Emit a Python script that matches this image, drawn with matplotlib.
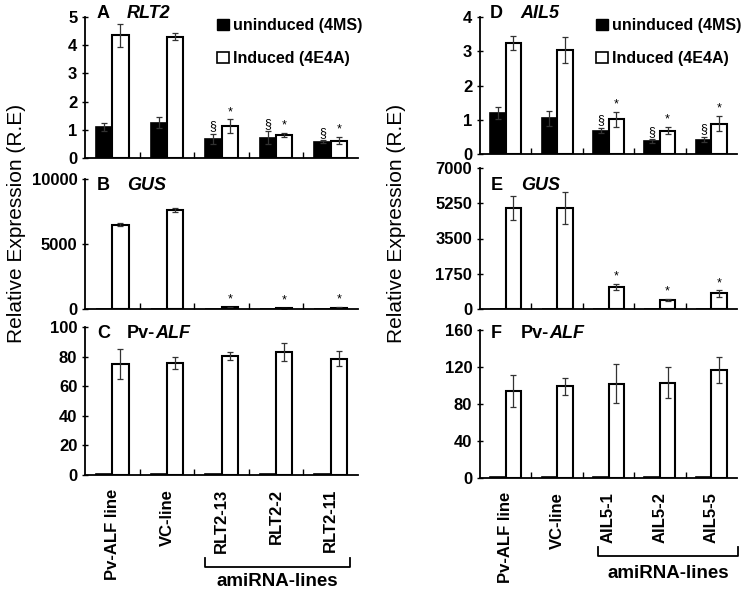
import matplotlib
matplotlib.use("Agg")
import matplotlib.pyplot as plt
import matplotlib.transforms as mtransforms
from matplotlib.patches import Patch
import numpy as np

plt.rcParams['font.family'] = ['Liberation Sans', 'DejaVu Sans']
plt.rcParams['font.weight'] = 'bold'

W, H = 747, 590

left_lines = ["Pv-ALF line", "VC-line", "RLT2-13", "RLT2-2", "RLT2-11"]
right_lines = ["Pv-ALF line", "VC-line", "AIL5-1", "AIL5-2", "AIL5-5"]

# RLT2 (A)
rlt2_un = [1.1, 1.25, 0.68, 0.72, 0.58]
rlt2_un_err = [0.15, 0.2, 0.18, 0.22, 0.05]
rlt2_in = [4.35, 4.3, 1.12, 0.82, 0.62]
rlt2_in_err = [0.4, 0.13, 0.25, 0.08, 0.12]
# GUS (B)
gusB_un = [5, 5, 5, 5, 5]
gusB_in = [6500, 7600, 150, 50, 100]
gusB_in_err = [150, 150, 40, 20, 30]
# Pv-ALF (C)
alfC_un = [0.4, 0.4, 0.4, 0.4, 0.4]
alfC_in = [75, 75.5, 80.5, 83, 78.5]
alfC_in_err = [10, 4, 2.5, 6, 5]
# AIL5 (D)
ail5_un = [1.2, 1.05, 0.68, 0.38, 0.42]
ail5_un_err = [0.17, 0.22, 0.08, 0.05, 0.08]
ail5_in = [3.25, 3.05, 1.02, 0.68, 0.88]
ail5_in_err = [0.2, 0.38, 0.22, 0.1, 0.22]
# GUS (E)
gusE_un = [10, 10, 10, 10, 10]
gusE_in = [5000, 5000, 1080, 440, 770]
gusE_in_err = [600, 800, 150, 60, 150]
# Pv-ALF (F)
alfF_un = [0.6, 0.6, 0.6, 0.6, 0.6]
alfF_in = [94, 99, 102, 103, 117]
alfF_in_err = [17, 9, 21, 17, 14]

fig = plt.figure(figsize=(W / 100, H / 100), dpi=100)


def px_axes(x0, x1, ytop, ybot):
    return fig.add_axes([x0 / W, 1 - ybot / H, (x1 - x0) / W, (ybot - ytop) / H])


def fy(y):
    return 1 - y / H


def draw_panel(ax, un, in_, un_err, in_err, ymax, yticks, marks_in=False, marks_un=False):
    x = np.arange(5)
    bw = 0.3
    ax.bar(x - bw / 2, un, bw, color='black', edgecolor='black', linewidth=1.2,
           yerr=un_err, error_kw=dict(ecolor='#333333', elinewidth=0.9, capsize=2.5, capthick=0.9))
    ax.bar(x + bw / 2, in_, bw, color='white', edgecolor='black', linewidth=1.5,
           yerr=in_err, error_kw=dict(ecolor='#333333', elinewidth=0.9, capsize=2.5, capthick=0.9))
    ax.set_xlim(-0.5, 4.5)
    ax.set_ylim(0, ymax)
    ax.set_yticks(yticks)
    ax.set_yticklabels([str(t) for t in yticks], fontsize=12, fontweight='bold')
    for s in ['top', 'right']:
        ax.spines[s].set_visible(False)
    for s in ['left', 'bottom']:
        ax.spines[s].set_linewidth(1.3)
    ax.tick_params(axis='y', direction='inout', length=5, width=1, pad=3)
    ax.set_xticks(x)
    ax.set_xticklabels([])
    ax.tick_params(axis='x', which='major', length=0)
    ax.set_xticks(np.arange(0.5, 4.5, 1), minor=True)
    ax.tick_params(axis='x', which='minor', direction='in', length=4, width=1)
    ie = in_err if in_err is not None else [0] * 5
    ue = un_err if un_err is not None else [0] * 5
    for i in range(2, 5):
        if marks_in:
            ax.annotate('*', (x[i] + bw / 2, in_[i] + ie[i]), xytext=(0, 1),
                        textcoords='offset points', ha='center', va='bottom', fontsize=9, fontweight='normal')
        if marks_un:
            ax.annotate('§', (x[i] - bw / 2, un[i] + ue[i]), xytext=(0, 1),
                        textcoords='offset points', ha='center', va='bottom', fontsize=9, fontweight='normal')


# left column
axA = px_axes(85, 358, 17, 158)
draw_panel(axA, rlt2_un, rlt2_in, rlt2_un_err, rlt2_in_err, 5, [0, 1, 2, 3, 4, 5], True, True)
axB = px_axes(85, 358, 179, 309)
draw_panel(axB, gusB_un, gusB_in, None, gusB_in_err, 10000, [0, 5000, 10000], True)
axC = px_axes(85, 358, 327, 475)
draw_panel(axC, alfC_un, alfC_in, None, alfC_in_err, 100, [0, 20, 40, 60, 80, 100])

# right column
axD = px_axes(480, 737, 17, 154)
draw_panel(axD, ail5_un, ail5_in, ail5_un_err, ail5_in_err, 4, [0, 1, 2, 3, 4], True, True)
axE = px_axes(480, 737, 168, 309)
draw_panel(axE, gusE_un, gusE_in, None, gusE_in_err, 7000, [0, 1750, 3500, 5250, 7000], True)
axF = px_axes(480, 737, 330, 478)
draw_panel(axF, alfF_un, alfF_in, None, alfF_in_err, 160, [0, 40, 80, 120, 160])

# x labels
for ax, labels in [(axC, left_lines), (axF, right_lines)]:
    ax.set_xticklabels(labels, rotation=90, fontsize=12, fontweight='bold')
    ax.tick_params(axis='x', which='major', pad=10)


# panel titles
def title(x, y, letter, gene, prefix=''):
    fig.text(x / W, fy(y), letter, fontsize=13, fontweight='bold', va='center')
    if prefix:
        t = fig.text((x + 30) / W, fy(y), prefix, fontsize=13, fontweight='bold', va='center')
        plt.annotate(gene, xy=(1, 0.5), xycoords=t, va='center', ha='left',
                     fontsize=13, fontweight='bold', fontstyle='italic')
    else:
        fig.text((x + 30) / W, fy(y), gene, fontsize=13, fontweight='bold', fontstyle='italic', va='center')


title(97, 13, 'A', 'RLT2')
title(490, 13, 'D', 'AIL5')
title(97, 185, 'B', 'GUS')
title(491, 185, 'E', 'GUS')
title(97, 333, 'C', 'ALF', 'Pv-')
title(491, 333, 'F', 'ALF', 'Pv-')

# legends
handles = [Patch(facecolor='black', edgecolor='black', label='uninduced (4MS)'),
           Patch(facecolor='white', edgecolor='black', linewidth=1.2, label='Induced (4E4A)')]
for ax, xl in [(axA, 203), (axD, 582)]:
    ax.legend(handles=handles, loc='upper left', bbox_to_anchor=(xl / W, fy(4)),
              bbox_transform=fig.transFigure, frameon=False, handlelength=0.7, handleheight=0.7,
              handletextpad=0.25, labelspacing=1.1, prop=dict(size=11.5, weight='bold'))

# y labels
fig.text(17 / W, fy(223), 'Relative Expression (R.E)', rotation=90, fontsize=15,
         fontweight='normal', ha='center', va='center')
fig.text(397 / W, fy(223), 'Relative Expression (R.E)', rotation=90, fontsize=15,
         fontweight='normal', ha='center', va='center')

# amiRNA brackets
for ax, x0, x1, yb, yt in [(axC, 1.70, 4.35, 567, 582), (axF, 1.80, 4.52, 556, 573)]:
    tr = mtransforms.blended_transform_factory(ax.transData, fig.transFigure)
    ax.plot([x0, x0, x1, x1], [fy(yb - 9), fy(yb), fy(yb), fy(yb - 9)], color='black',
            lw=1.3, transform=tr, clip_on=False)
    ax.text((x0 + x1) / 2, fy(yt), 'amiRNA-lines', transform=tr, ha='center', va='center',
            fontsize=13.5, fontweight='bold')

fig.savefig('out.png', dpi=100)
